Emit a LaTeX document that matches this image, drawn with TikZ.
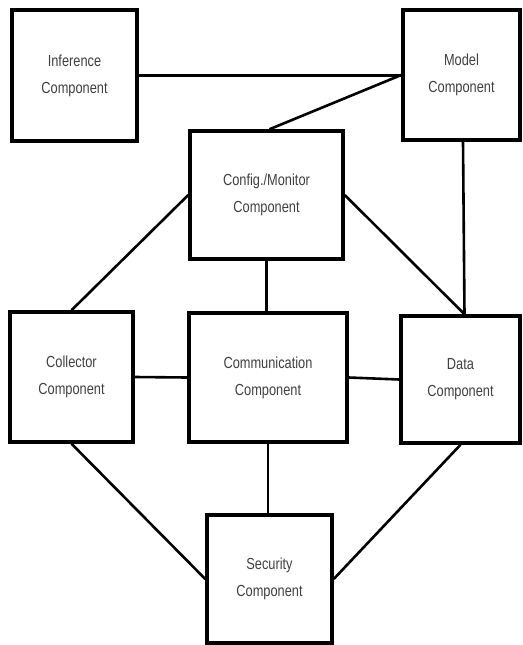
\documentclass[tikz,border=0pt]{standalone}
\usepackage{fontspec}
\setmainfont{Liberation Sans}
\newfontfamily\boxfont{Liberation Sans}[FakeStretch=0.8]

\tikzset{
  comp/.style={draw, line width=3.5pt, align=center, text=black!75,
    font=\boxfont\fontsize{16}{27}\selectfont, inner sep=0pt},
  link/.style={line width=2.6pt}
}

\begin{document}
\begin{tikzpicture}[x=1pt, y=-1pt]
  \useasboundingbox (0,0) rectangle (522,645);

  % Komponenty
  \node[comp, minimum width=125pt, minimum height=131pt] (inf) at (74.5, 75.5)
    {Inference\\Component};
  \node[comp, minimum width=117pt, minimum height=130pt] (model) at (461.5, 75)
    {Model\\Component};
  \node[comp, minimum width=153pt, minimum height=128pt] (config) at (266.5, 195)
    {Config./Monitor\\Component};
  \node[comp, minimum width=123pt, minimum height=130pt] (coll) at (71.5, 377)
    {Collector\\Component};
  \node[comp, minimum width=158pt, minimum height=129pt] (comm) at (268, 377.5)
    {Communication\\Component};
  \node[comp, minimum width=119pt, minimum height=127pt] (data) at (460.5, 379.5)
    {Data\\Component};
  \node[comp, minimum width=125pt, minimum height=128pt] (sec) at (269.5, 579)
    {Security\\Component};

  % Połączenia
  \draw[link] (inf.east) -- (inf.east -| model.west);
  \draw[link] (model.west) -- ([xshift=3pt]config.north);
  \draw[link] ([xshift=1.5pt]model.south) -- ([xshift=4pt]data.north);
  \draw[link] (config.east) -- ([xshift=4pt]data.north);
  \draw[link] (config.west) -- (coll.north);
  \draw[link] (config.south) -- (config.south |- comm.north);
  \draw[link] (coll.east) -- (comm.west);
  \draw[link] (comm.east) -- (data.west);
  \draw[link] (comm.south) -- (comm.south |- sec.north);
  \draw[link] (coll.south) -- (sec.west);
  \draw[link] (data.south) -- (sec.east);
\end{tikzpicture}
\end{document}
